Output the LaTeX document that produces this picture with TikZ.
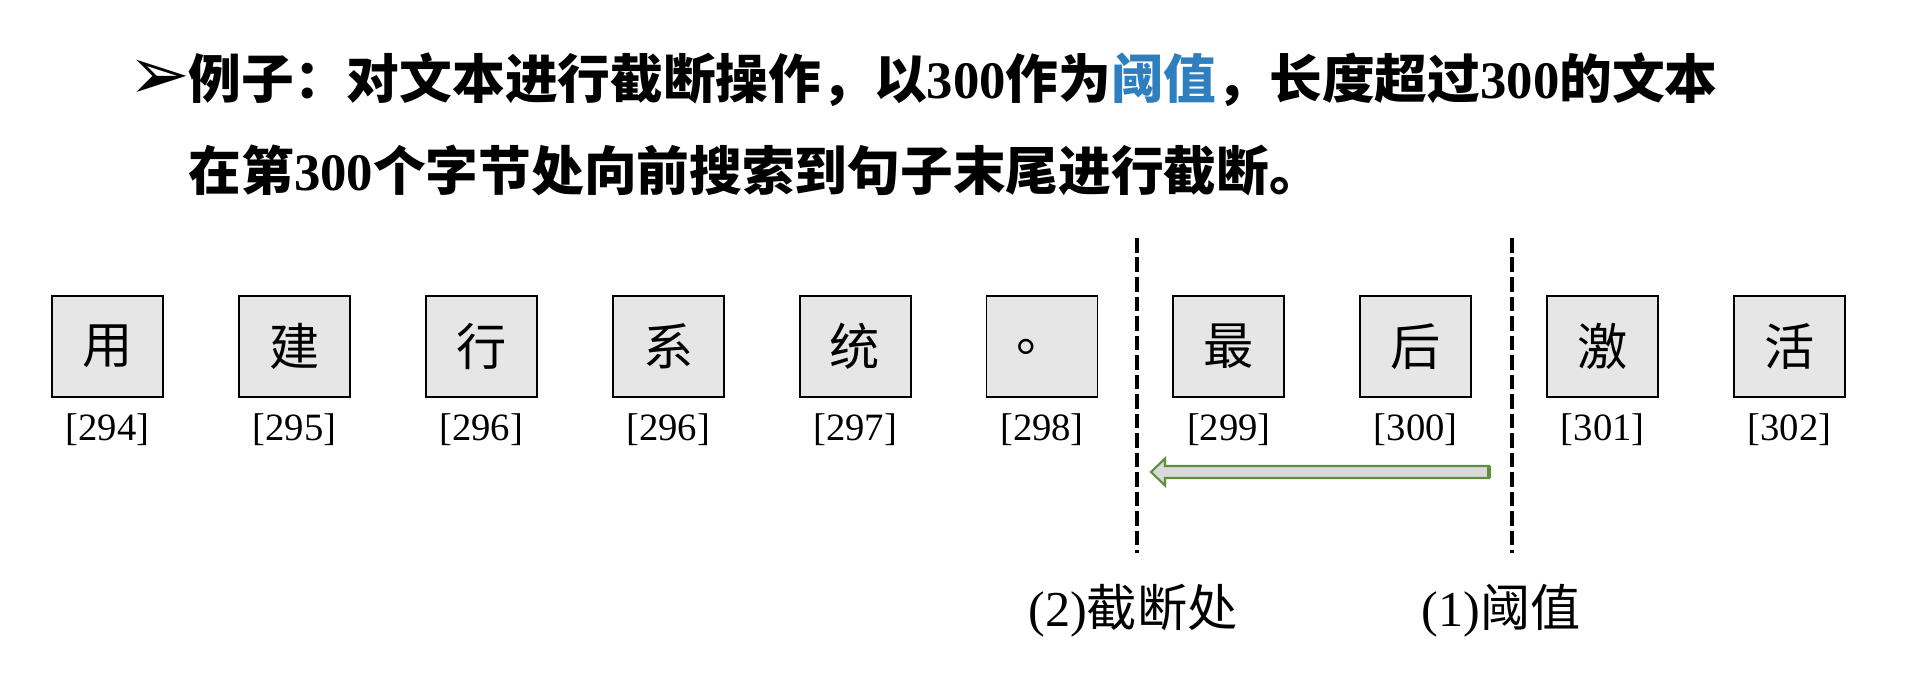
\documentclass[tikz,border=0pt]{standalone}
\usepackage{fontspec}
\setmainfont{Liberation Serif}
\newfontfamily\cjkfont{Noto Sans CJK SC}
\newfontfamily\dingfont{DejaVu Sans}
\usepackage{tikz}
\usetikzlibrary{calc}
\definecolor{InkBlack}{HTML}{000000}
\definecolor{BoxGray}{HTML}{E6E6E6}
\definecolor{ArrowGray}{HTML}{D9D9D9}
\definecolor{ArrowGreen}{HTML}{5E8E3E}
\definecolor{KeyBlue}{HTML}{2F7FBF}
\tikzset{
  charbox/.style={draw=InkBlack,line width=0.55pt,fill=BoxGray,minimum width=11.1mm,
    minimum height=10.1mm,inner sep=0pt,font=\cjkfont\fontsize{14.3pt}{14pt}\selectfont},
  idxlabel/.style={inner sep=0pt,font=\fontsize{11pt}{11pt}\selectfont},
  cutline/.style={line width=1.4pt,dash pattern=on 4.2pt off 1.35pt},
  searcharrow/.style={draw=ArrowGreen,fill=ArrowGray,line width=0.6pt,line join=miter},
  titletext/.style={anchor=base west,inner sep=0pt,font=\bfseries\fontsize{15pt}{17pt}\selectfont},
  marklabel/.style={inner sep=0pt,font=\fontsize{14.3pt}{16pt}\selectfont}
}

\begin{document}
\begin{tikzpicture}[x=0.1mm,y=-0.1mm]
  \useasboundingbox (0,0) rectangle (1905,693);

  % title
  \node[anchor=base west,inner sep=0pt,font=\dingfont\fontsize{21pt}{21pt}\selectfont] (bullet) at (128,100) {➢};
  \node[titletext] (line1) at (188,99) {{\cjkfont 例子：对文本进行截断操作，以}300{\cjkfont 作为}{\color{KeyBlue}\cjkfont 阈值}{\cjkfont ，长度超过}300{\cjkfont 的文本}};
  \node[titletext] (line2) at (188,191) {{\cjkfont 在第}300{\cjkfont 个字节处向前搜索到句子末尾进行截断。}};

  % characters
  \node[charbox] (c294) at (107.5,346.5) {用};
  \node[charbox] (c295) at (294.4,346.5) {建};
  \node[charbox] (c296) at (481.3,346.5) {行};
  \node[charbox] (c296b) at (668.2,346.5) {系};
  \node[charbox] (c297) at (855.1,346.5) {统};
  \node[charbox] (c298) at (1042,346.5) {。};
  \node[charbox] (c299) at (1228.9,346.5) {最};
  \node[charbox] (c300) at (1415.8,346.5) {后};
  \node[charbox] (c301) at (1602.7,346.5) {激};
  \node[charbox] (c302) at (1789.6,346.5) {活};

  \node[idxlabel] (n294) at (107.5,430) {[294]};
  \node[idxlabel] (n295) at (294.4,430) {[295]};
  \node[idxlabel] (n296) at (481.3,430) {[296]};
  \node[idxlabel] (n296b) at (668.2,430) {[296]};
  \node[idxlabel] (n297) at (855.1,430) {[297]};
  \node[idxlabel] (n298) at (1042,430) {[298]};
  \node[idxlabel] (n299) at (1228.9,430) {[299]};
  \node[idxlabel] (n300) at (1415.8,430) {[300]};
  \node[idxlabel] (n301) at (1602.7,430) {[301]};
  \node[idxlabel] (n302) at (1789.6,430) {[302]};

  % cut and threshold lines
  \coordinate (cutTop) at (1137,238);
  \coordinate (cutBot) at (1137,553);
  \coordinate (limTop) at (1512,238);
  \coordinate (limBot) at (1512,553);
  \draw[cutline] (cutTop) -- (cutBot);
  \draw[cutline] (limTop) -- (limBot);

  % search backwards
  \coordinate (arrTail) at (1489,472);
  \coordinate (arrTip) at (1151,472);
  \draw[searcharrow] ($(arrTail)+(0,-6)$) -- ($(arrTip)+(14,-6)$) -- ($(arrTip)+(14,-13.5)$)
    -- (arrTip) -- ($(arrTip)+(14,13.5)$) -- ($(arrTip)+(14,6)$) -- ($(arrTail)+(0,6)$) -- cycle;
  \draw[ArrowGreen,line width=1.2pt] ($(arrTail)+(0,-6)$) -- ($(arrTail)+(0,6)$);

  \node[marklabel] (cutlabel) at (1133,611) {(2){\cjkfont 截断处}};
  \node[marklabel] (limlabel) at (1501,611) {(1){\cjkfont 阈值}};
\end{tikzpicture}
\end{document}
